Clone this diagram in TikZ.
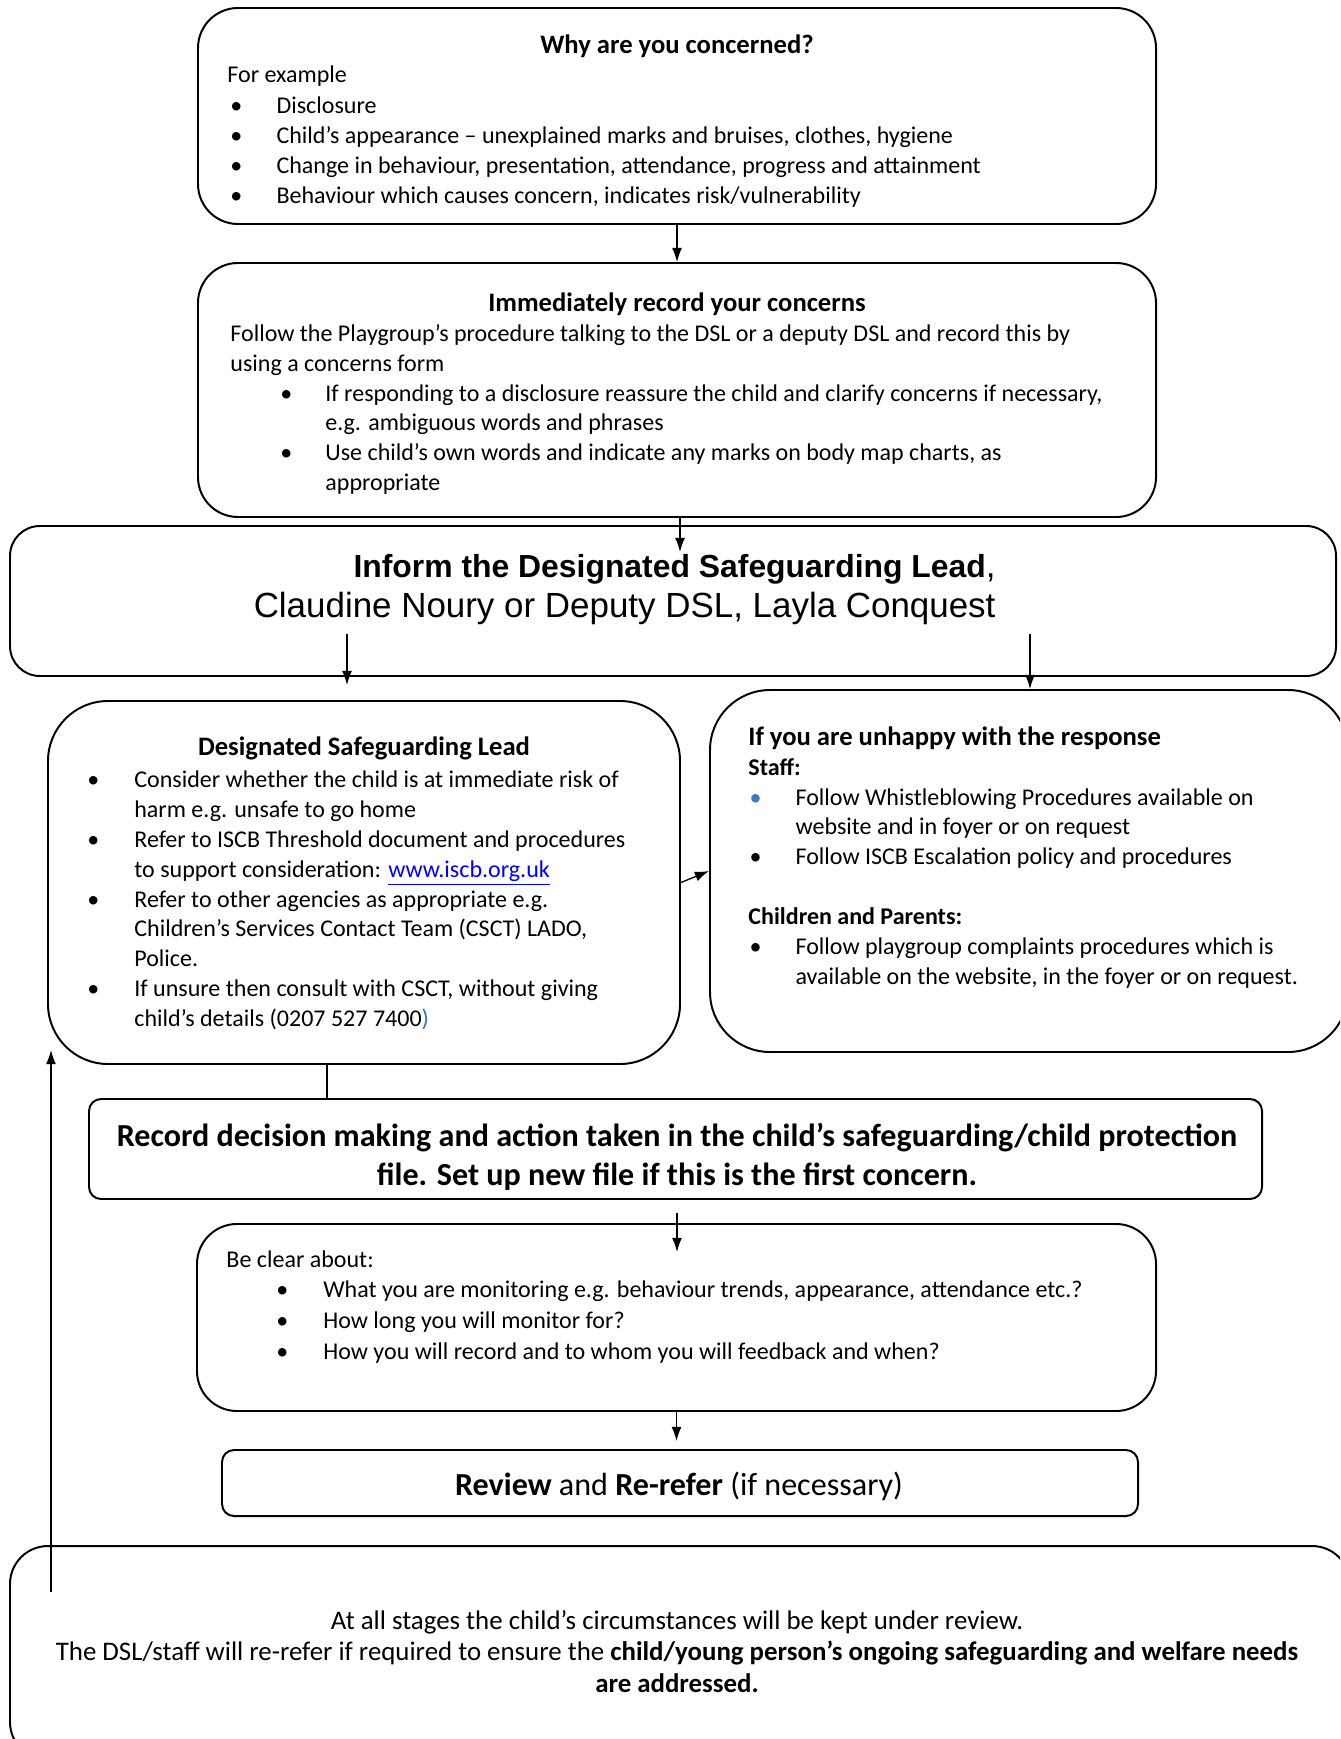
\documentclass[tikz,border=0pt]{standalone}
\usepackage{fontspec}
\setmainfont{Carlito}
\newfontfamily\arialfont{Liberation Sans}
\usetikzlibrary{arrows.meta,fit}
\definecolor{linkblue}{RGB}{0,0,255}
\definecolor{bulblue}{RGB}{68,114,196}
\definecolor{parblue}{RGB}{46,116,181}
\newcommand\bitem[3]{\hspace*{#1}\makebox[#2][l]{\textbullet}#3}
\newcommand\bblue[3]{\hspace*{#1}\makebox[#2][l]{\textcolor{bulblue}{\textbullet}}#3}
\begin{document}
\begin{tikzpicture}[x=0.458pt,y=-0.458pt,
  box/.style={draw, line width=0.9pt, inner sep=0pt},
  arr/.style={line width=0.6pt, -{Latex[length=6.5pt,width=4.6pt]}},
  plain/.style={line width=0.6pt},
  txt/.style={inner sep=0pt, align=left, font=\fontsize{11}{13.8}\selectfont},
  ttl/.style={inner sep=0pt, font=\bfseries\fontsize{12.2}{14}\selectfont},
]
\useasboundingbox (0,0) rectangle (1340,1739);
\clip (0,0) rectangle (1340,1739);

% boxes
\node[box, rounded corners=18.3pt, fit={(198,8) (1156,224)}] (b1) {};
\node[box, rounded corners=18.3pt, fit={(198,263) (1156,517)}] (b2) {};
\node[box, rounded corners=13.7pt, fit={(10,526) (1336,676)}] (b3) {};
\node[box, rounded corners=27.5pt, fit={(48,701) (680,1064)}] (b4) {};
\node[box, rounded corners=27.5pt, fit={(710,690) (1348,1052)}] (b5) {};
\node[box, rounded corners=5.5pt, fit={(89,1099) (1262,1199)}] (b6) {};
\node[box, rounded corners=18.3pt, fit={(197,1224) (1156,1411)}] (b7) {};
\node[box, rounded corners=5.5pt, fit={(222,1450) (1138,1516)}] (b8) {};
\node[box, rounded corners=17.4pt, fit={(10,1546) (1350,1760)}] (b9) {};

% box 1
\node[ttl, anchor=base] (t1) at (677,54) {Why are you concerned?};
\begin{scope}
\clip (0,0) rectangle (1340,206.5);
\node[txt, anchor=base west] (x1) at (227,203.5) {For example\\
\bitem{1.4pt}{21.1pt}{Disclosure}\\
\bitem{1.4pt}{21.1pt}{Child’s appearance – unexplained marks and bruises, clothes, hygiene}\\
\bitem{1.4pt}{21.1pt}{Change in behaviour, presentation, attendance, progress and attainment}\\
\bitem{1.4pt}{21.1pt}{Behaviour which causes concern, indicates risk/vulnerability}};
\end{scope}

% box 2
\node[ttl, anchor=base] (t2) at (677,312) {Immediately record your concerns};
\node[txt, anchor=base west, font=\fontsize{11}{13.65}\selectfont] (x2) at (230,490.5) {Follow the Playgroup’s procedure talking to the DSL or a deputy DSL and record this by\\
using a concerns form\\
\bitem{22.9pt}{20.6pt}{If responding to a disclosure reassure the child and clarify concerns if necessary,}\\
\hspace*{43.5pt}e.g. ambiguous words and phrases\\
\bitem{22.9pt}{20.6pt}{Use child’s own words and indicate any marks on body map charts, as}\\
\hspace*{43.5pt}appropriate};

% box 3
\node[inner sep=0pt, align=right, anchor=base east, font=\arialfont\fontsize{16}{18.3}\selectfont] (x3) at (996,617) {{\bfseries\fontsize{14.6}{18.3}\selectfont Inform the Designated Safeguarding Lead},\\Claudine Noury or Deputy DSL, Layla Conquest};

% box 4
\node[ttl, anchor=base] (t4) at (364,755.5) {Designated Safeguarding Lead};
\node[txt, anchor=base west, font=\fontsize{11}{13.67}\selectfont] (x4) at (87,1026.5) {%
\bitem{0pt}{21.5pt}{Consider whether the child is at immediate risk of}\\
\hspace*{21.5pt}harm e.g. unsafe to go home\\
\bitem{0pt}{21.5pt}{Refer to ISCB Threshold document and procedures}\\
\hspace*{21.5pt}to support consideration: \textcolor{linkblue}{\underline{www.iscb.org.uk}}\\
\bitem{0pt}{21.5pt}{Refer to other agencies as appropriate e.g.}\\
\hspace*{21.5pt}Children’s Services Contact Team (CSCT) LADO,\\
\hspace*{21.5pt}Police.\\
\bitem{0pt}{21.5pt}{If unsure then consult with CSCT, without giving}\\
\hspace*{21.5pt}child’s details (0207 527 7400\textcolor{parblue}{)}};

% box 5
\node[ttl, anchor=base west] (t5) at (748,745.5) {If you are unhappy with the response};
\node[txt, anchor=base west, font=\fontsize{11}{13.7}\selectfont] (x5) at (748,984.5) {\textbf{Staff:}\\
\bblue{0.5pt}{21.1pt}{Follow Whistleblowing Procedures available on}\\
\hspace*{21.6pt}website and in foyer or on request\\
\bitem{0.5pt}{21.1pt}{Follow ISCB Escalation policy and procedures}\\
\mbox{}\\
\textbf{Children and Parents:}\\
\bitem{0.5pt}{21.1pt}{Follow playgroup complaints procedures which is}\\
\hspace*{21.6pt}available on the website, in the foyer or on request.};

% box 6
\begin{scope}
\clip (0,0) rectangle (1340,1189);
\node[inner sep=0pt, align=center, anchor=base, font=\bfseries\fontsize{14.7}{17.8}\selectfont] (x6) at (677,1185.5) {Record decision making and action taken in the child’s safeguarding/child protection\\file. Set up new file if this is the first concern.};
\end{scope}

% box 7
\node[txt, anchor=base west, font=\fontsize{11}{14}\selectfont] (x7) at (226,1359) {Be clear about:\\
\bitem{22.9pt}{21.5pt}{What you are monitoring e.g. behaviour trends, appearance, attendance etc.?}\\
\bitem{22.9pt}{21.5pt}{How long you will monitor for?}\\
\bitem{22.9pt}{21.5pt}{How you will record and to whom you will feedback and when?}};

% box 8
\node[inner sep=0pt, anchor=base, font=\fontsize{14.7}{17}\selectfont] (x8) at (679,1495.5) {\textbf{Review} and \textbf{Re-refer} (if necessary)};

% box 9
\node[inner sep=0pt, align=center, anchor=base, font=\fontsize{12.3}{14.5}\selectfont] (x9) at (677,1692.5) {At all stages the child’s circumstances will be kept under review.\\The DSL/staff will re-refer if required to ensure the \textbf{child/young person’s ongoing safeguarding and welfare needs}\\\textbf{are addressed.}};

% connectors
\draw[arr] (b1.south) -- (b2.north);
\coordinate (t3) at (680,552);
\draw[arr] (b2.south -| t3) -- (t3);
\coordinate (s3l) at (347,634);
\coordinate (e3l) at (347,685);
\draw[arr] (s3l) -- (e3l);
\coordinate (s3r) at (1030,634);
\draw[arr] (s3r) -- (b5.north -| s3r);
\draw[arr] (b4.east) -- (b5.west);
\coordinate (j46) at (327,1080);
\draw[plain] (b4.south -| j46) -- (b6.north -| j46);
\coordinate (s7) at (677,1213);
\coordinate (e7) at (677,1252);
\draw[arr] (s7) -- (e7);
\draw[arr, shorten >=3.7pt] (b7.south) -- (b8.north -| b7.south);
\coordinate (s9) at (51,1592);
\coordinate (e9) at (51,1050);
\draw[arr] (s9) -- (e9);
\end{tikzpicture}
\end{document}
